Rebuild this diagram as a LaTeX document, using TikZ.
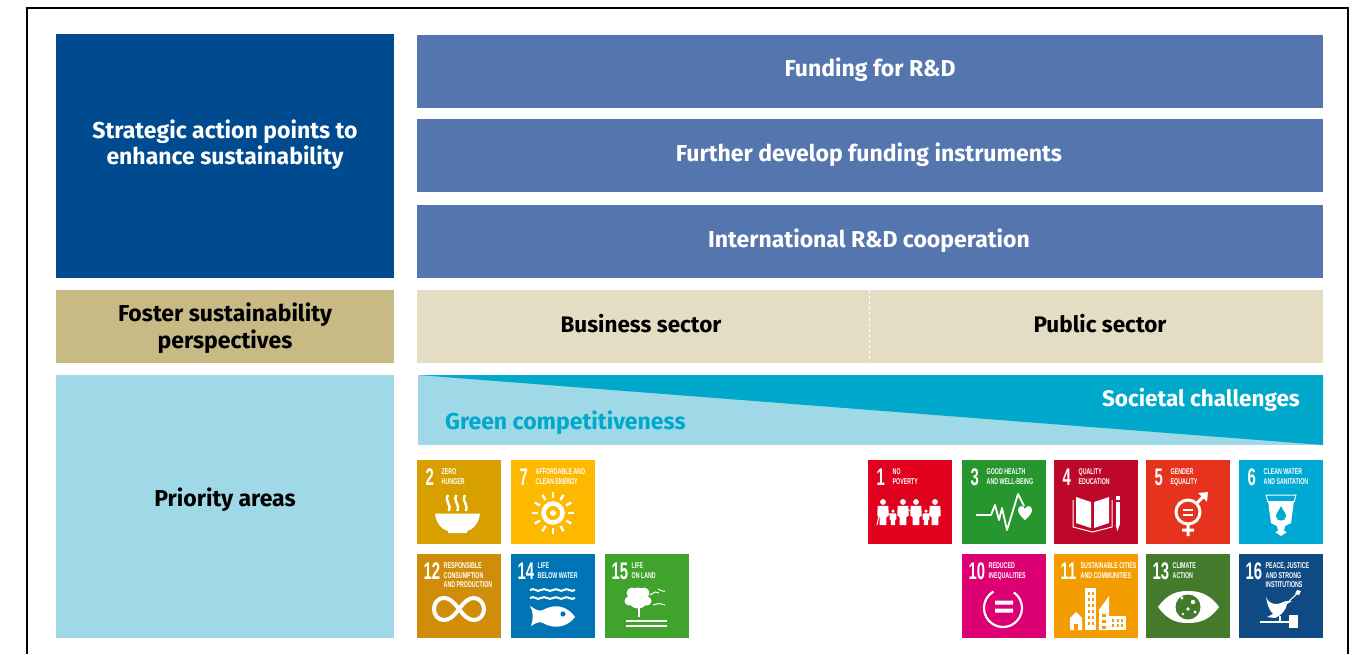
\documentclass[tikz,border=0pt]{standalone}
\usepackage{fontspec}
\setmainfont{Fira Sans}
\newfontfamily\numfont[FakeStretch=0.62]{Liberation Sans}
\newfontfamily\labfont[FakeStretch=0.63]{Liberation Sans}
\definecolor{dkblue}{HTML}{004B8F}
\definecolor{midblue}{HTML}{5575AE}
\definecolor{tan1}{HTML}{C8BA85}
\definecolor{beige}{HTML}{E5DDC3}
\definecolor{ltblue}{HTML}{9FD8E6}
\definecolor{teal1}{HTML}{00A9CB}
\definecolor{sa}{HTML}{D7A000}\definecolor{sb}{HTML}{FCB900}
\definecolor{sc}{HTML}{CF8D0A}\definecolor{sd}{HTML}{0075B6}
\definecolor{se}{HTML}{3FA32C}\definecolor{sf}{HTML}{E2001F}
\definecolor{sg}{HTML}{27962F}\definecolor{sh}{HTML}{BE0829}
\definecolor{si}{HTML}{E6331D}\definecolor{sj}{HTML}{00A8D4}
\definecolor{sk}{HTML}{DC0073}\definecolor{sl}{HTML}{F39C00}
\definecolor{sm}{HTML}{437A2C}\definecolor{sn}{HTML}{0F4A84}
\tikzset{
  head/.style={font=\fontsize{23}{26.5}\selectfont\bfseries,inner sep=0pt,align=center},
  heads/.style={font=\fontsize{22.5}{26.5}\selectfont\bfseries,inner sep=0pt,align=center},
  tile/.style={rectangle,minimum width=84pt,minimum height=84pt,inner sep=0pt,outer sep=0pt},
  tnum/.style={anchor=west,inner sep=0pt,text=white,font=\numfont\bfseries\fontsize{24}{24}\selectfont},
  tlab/.style={anchor=north west,inner sep=0pt,text=white,align=left,font=\labfont\bfseries\fontsize{8.4}{9.6}\selectfont},
  ic/.style={fill=white,draw=none},
  il/.style={draw=white,fill=none,line width=#1},
  il/.default=2pt
}
\newcommand{\sdgtile}[8]{% name,x,y,color,number,numx,label,icon
  \begin{scope}[shift={(#2,#3)}]
    \node[tile,fill=#4] (tile#1) at (42,42) {};
    \node[tnum] (num#1) at (#6,17) {#5};
    \node[tlab] (lab#1) at (#6+\ifnum#5>9 20\else 16\fi,8.5) {#7};
    #8
  \end{scope}}
\begin{document}
\begin{tikzpicture}[x=1pt,y=-1pt]
\useasboundingbox (0,0) rectangle (1367,654);
\fill[white] (0,0) rectangle (1367,654);
\draw[line width=2pt,black] (26.5,654) -- (26.5,7.7) -- (1347.7,7.7) -- (1347.7,654);

% left column
\node[minimum width=338pt,minimum height=244pt,inner sep=0pt,fill=dkblue] (strat) at (225,156) {};
\node[head,text=white] (strattext) at (225,144.5) {Strategic action points to\\enhance sustainability};
\node[minimum width=338pt,minimum height=73pt,inner sep=0pt,fill=tan1] (foster) at (225,326.5) {};
\node[head] (fostertext) at (225,328) {Foster sustainability\\perspectives};
\node[minimum width=338pt,minimum height=263pt,inner sep=0pt,fill=ltblue] (prio) at (225,506.5) {};
\node[head] (priotext) at (225,499.5) {Priority areas};

% blue bars
\node[minimum width=906pt,minimum height=73pt,inner sep=0pt,fill=midblue] (b1) at (870,71.5) {};
\node[head,text=white] (b1t) at (870,70) {Funding for R\&D};
\node[minimum width=906pt,minimum height=73pt,inner sep=0pt,fill=midblue] (b2) at (870,155.5) {};
\node[head,text=white] (b2t) at (869,155) {Further develop funding instruments};
\node[minimum width=906pt,minimum height=73pt,inner sep=0pt,fill=midblue] (b3) at (870,241.5) {};
\node[head,text=white] (b3t) at (869,240.5) {International R\&D cooperation};

% sectors
\node[minimum width=906pt,minimum height=73pt,inner sep=0pt,fill=beige] (sect) at (870,326.5) {};
\coordinate (dashtop) at (869.5,290);
\coordinate (dashbot) at (869.5,363);
\draw[white,line width=1.5pt,dash pattern=on 3pt off 2.5pt] (dashtop) -- (dashbot);
\node[heads] (bus) at (641,324) {Business sector};
\node[heads] (pub) at (1100,324) {Public sector};

% wedge
\fill[ltblue] (418,375) rectangle (1323,445);
\fill[teal1] (418,375) -- (1323,375) -- (1323,445) -- cycle;
\node[heads,text=white,anchor=east] (soc) at (1300,400) {Societal challenges};
\node[head,text=teal1,anchor=west] (green) at (445,423) {Green competitiveness};

% SDG tiles
\sdgtile{2}{417}{460}{sa}{2}{8.5}{ZERO\\HUNGER}{
  \fill[ic] (18,53.5) -- (63,53.5) .. controls (62,64) and (55,70) .. (50,71) -- (50,73) -- (31,73) -- (31,71) .. controls (26,70) and (19,64) .. (18,53.5) -- cycle;
  \foreach \x in {31,39.5,48}{\draw[il=2.4pt] (\x,35) .. controls (\x-4,41) and (\x+4,45) .. (\x+1,51);}
}
\sdgtile{7}{511}{460}{sb}{7}{8.5}{AFFORDABLE AND\\CLEAN ENERGY}{
  \draw[il=4.5pt] (42,53) circle (9.5);
  \fill[ic] (42,53) circle (3);
  \foreach \a in {0,30,...,330}{\draw[il=2.4pt] (42,53) ++(\a:15) -- ++(\a:6);}
}
\sdgtile{12}{417}{554}{sc}{12}{6.5}{RESPONSIBLE\\CONSUMPTION\\AND PRODUCTION}{
  \draw[il=4pt] (42,55) .. controls (35,46) and (31,44) .. (27,44) .. controls (20,44) and (17,50) .. (17,55) .. controls (17,61) and (21,66) .. (27,66) .. controls (32,66) and (36,63) .. (42,55) .. controls (48,47) and (52,44) .. (57,44) .. controls (63,44) and (67,50) .. (67,55) .. controls (67,61) and (63,66) .. (57,66) .. controls (52,66) and (48,63) .. (42,55);
}
\sdgtile{14}{511}{554}{sd}{14}{6.5}{LIFE\\BELOW WATER}{
  \foreach \y in {36,44}{\draw[il=2pt] (19,\y) .. controls (23,\y-3) and (26,\y+3) .. (30,\y) .. controls (34,\y-3) and (38,\y+3) .. (42,\y) .. controls (46,\y-3) and (49,\y+3) .. (53,\y) .. controls (56,\y-3) and (60,\y+3) .. (64,\y);}
  \fill[ic] (64,63) .. controls (58,54) and (46,48) .. (32,56) .. controls (28,58) and (24,55) .. (19,52) .. controls (23,58) and (22,66) .. (20,72) .. controls (25,69) and (28,67) .. (32,69) .. controls (46,77) and (58,71) .. (64,63) -- cycle;
  \fill[sd] (52,60) circle (2.6);
}
\sdgtile{15}{605}{554}{se}{15}{6.5}{LIFE\\ON LAND}{
  \fill[ic] (33,44) circle (10.5);
  \fill[ic] (27,39) circle (5.5) (39,39) circle (5.5) (24,47) circle (4.5) (42,47) circle (4.5);
  \draw[il=2.5pt] (34,50) -- (34,63);
  \draw[il=2pt] (21,66.5) -- (62,66.5) (21,72) -- (62,72);
  \draw[il=1pt] (45,41) -- (50,38) -- (54,39) (53,35) -- (57,37) -- (60,37) (48,51) -- (54,49.5) -- (60,51);
}
\sdgtile{1}{868}{460}{sf}{1}{8.5}{NO\\POVERTY}{
  \foreach \x/\s in {15/0.96,35/0.96,48/0.96,67/0.96,25/0.58,58/0.58}{
    \begin{scope}[shift={(\x,65)},scale=\s]
      \fill[ic] (0,-24) circle (3);
      \fill[ic] (-5.5,-20) -- (5.5,-20) -- (6,-10) -- (3.5,-8) -- (3.5,0) -- (-3.5,0) -- (-3.5,-8) -- (-6,-10) -- cycle;
    \end{scope}}
  \draw[il=1pt] (9,65) -- (11,55) (19,53) -- (25,56) (40,50) -- (44,50) (58,56) -- (63,53);
}
\sdgtile{3}{962}{460}{sg}{3}{8.5}{GOOD HEALTH\\AND WELL-BEING}{
  \draw[il=1.8pt,line join=round] (14,55) -- (29,55) -- (33,45) -- (37,60) -- (40,48) -- (45,70) -- (56,34) -- (62,46);
  \fill[ic] (63,60) .. controls (58,56) and (56,52) .. (56,50) .. controls (56,45) and (62,45) .. (63,49) .. controls (64,45) and (70,45) .. (70,50) .. controls (70,52) and (68,56) .. (63,60) -- cycle;
}
\sdgtile{4}{1054}{460}{sh}{4}{8.5}{QUALITY\\EDUCATION}{
  \fill[ic] (22,37) -- (37,42) -- (37,68) -- (22,63) -- cycle;
  \fill[ic] (40,42) -- (55,37) -- (55,63) -- (40,68) -- cycle;
  \draw[il=1pt] (19,40) -- (19,67) -- (38.5,72) -- (58,67) -- (58,40);
  \fill[ic] (61.5,42) rectangle (65.5,65);
  \fill[ic] (61.5,65) -- (65.5,65) -- (63.5,71) -- cycle;
  \fill[ic] (61.5,36) rectangle (65.5,40);
}
\sdgtile{5}{1146}{460}{si}{5}{8.5}{GENDER\\EQUALITY}{
  \draw[il=3pt] (42,52) circle (12);
  \draw[il=2pt] (37,50) -- (47,50) (37,55) -- (47,55);
  \draw[il=3pt] (42,64) -- (42,76) (36,70) -- (48,70) (50,44) -- (59,35);
  \fill[ic] (52,33) -- (62,32) -- (61,42) -- cycle;
}
\sdgtile{6}{1239}{460}{sj}{6}{8.5}{CLEAN WATER\\AND SANITATION}{
  \draw[il=1pt] (27,35) -- (57,35) -- (55,42);
  \draw[il=1pt] (27,35) -- (29,42);
  \fill[ic] (29,41) -- (55,41) -- (52,63) -- (46,66) -- (45,71) -- (48,72) -- (42,76) -- (36,72) -- (39,71) -- (38,66) -- (32,63) -- cycle;
  \fill[sj] (42,46) .. controls (40,51) and (37,53) .. (37,56) .. controls (37,62) and (47,62) .. (47,56) .. controls (47,53) and (44,51) .. (42,46) -- cycle;
}
\sdgtile{10}{962}{554}{sk}{10}{6.5}{REDUCED\\INEQUALITIES}{
  \draw[il=2.2pt] (41,54) ++(60:-19) arc[start angle=240,end angle=-55,radius=19];
  \fill[ic] (33,46.5) rectangle (51,50.5) (33,54.5) rectangle (51,58.5);
}
\sdgtile{11}{1054}{554}{sl}{11}{6.5}{SUSTAINABLE CITIES\\AND COMMUNITIES}{
  \fill[ic] (31,34) rectangle (42,76);
  \fill[ic] (16,76) -- (16,64) -- (22,58) -- (28,64) -- (28,76) -- cycle;
  \fill[ic] (45,76) -- (45,56) -- (55,42) -- (55,76) -- cycle;
  \fill[ic] (55,62) rectangle (72,76);
  \foreach \x in {33.5,38}{\foreach \y in {38,44,...,68}{\fill[sl] (\x,\y) rectangle +(2.2,3);}}
  \foreach \x in {58,62.5,67}{\foreach \y in {65,70}{\fill[sl] (\x,\y) rectangle +(2.2,3);}}
  \foreach \y in {60,66,72}{\fill[sl] (48,\y) rectangle +(4,2.5);}
  \fill[sl] (20,70) rectangle (24,76);
}
\sdgtile{13}{1146}{554}{sm}{13}{6.5}{CLIMATE\\ACTION}{
  \fill[ic] (12,53) .. controls (22,39) and (32,37) .. (42,37) .. controls (52,37) and (63,39) .. (73,53) .. controls (63,67) and (52,69) .. (42,69) .. controls (32,69) and (22,67) .. (12,53) -- cycle;
  \fill[sm] (42,53) circle (12.5);
  \fill[ic] (36,44) circle (1.6) (47,48) circle (2.2) (42,55) circle (1.8) (37,60) circle (1.4) (49,58) circle (1.6);
}
\sdgtile{16}{1239}{554}{sn}{16}{6.5}{PEACE, JUSTICE\\AND STRONG\\INSTITUTIONS}{
  \fill[ic] (27,43) .. controls (30,50) and (35,50) .. (39,50) .. controls (42,50) and (44,47) .. (48,47) -- (53,47) -- (48,50) .. controls (47,56) and (42,62) .. (36,64) -- (28,63) -- (34,60) .. controls (30,56) and (28,50) .. (27,43) -- cycle;
  \draw[il=1pt] (50,47) -- (60,38);
  \fill[ic] (58,36) -- (62,37) -- (60,41) -- (56,40) -- cycle;
  \draw[il=1.8pt] (21,68) -- (52,68);
  \fill[ic] (50,61) rectangle (59,74);
  \draw[il=1.2pt] (41,62) -- (41,67);
}
\end{tikzpicture}
\end{document}
